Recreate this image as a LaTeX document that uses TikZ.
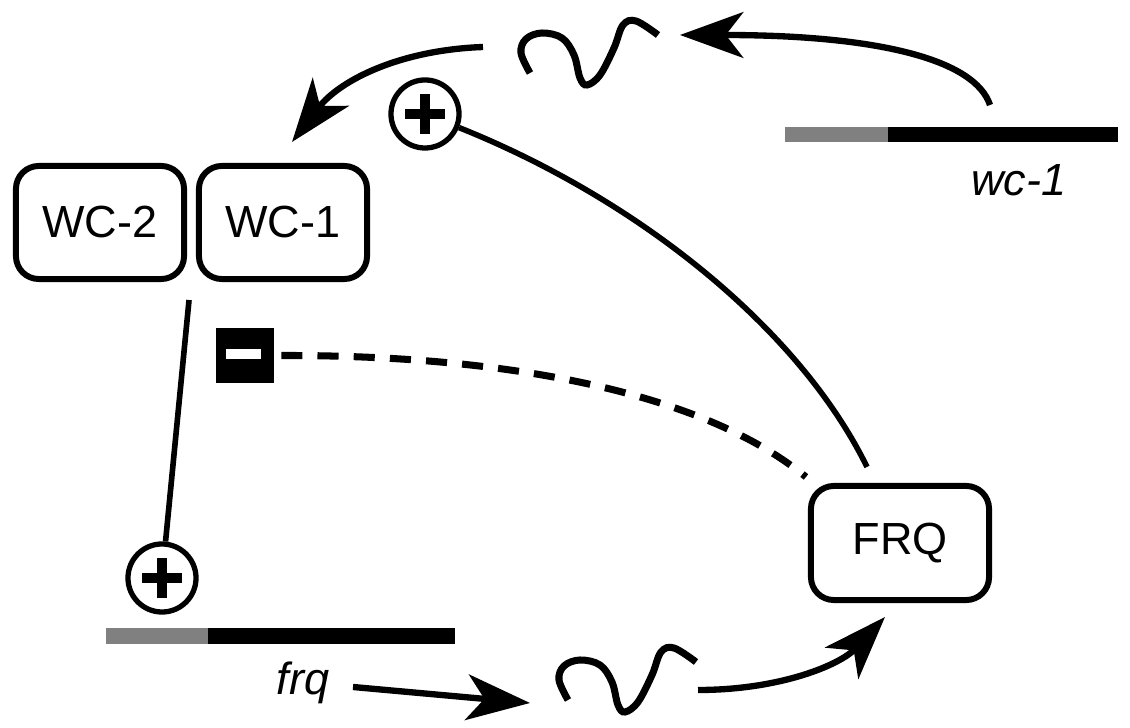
\documentclass[tikz,border=0pt]{standalone}
\usepackage{fontspec}
\setmainfont{Liberation Sans}
\usetikzlibrary{arrows.meta}
\def\mrna(#1){\draw[mrnaline, shift={(#1)}] plot[smooth, tension=0.6] coordinates {(0,0) (-9,-20) (-4,-34) (12,-40) (32,-35) (44,-18) (50,5) (57,12) (70,2) (84,-25) (93,-48) (106,-52) (128,-38)};}
\def\plusmark(#1){\draw[line width=2.8pt] ([xshift=-5.6pt]#1.center) -- ([xshift=5.6pt]#1.center);
  \draw[line width=2.8pt] ([yshift=-5.6pt]#1.center) -- ([yshift=5.6pt]#1.center);}

\begin{document}
\begin{tikzpicture}[x=0.01cm, y=-0.01cm,
    font=\fontsize{12.8}{15}\selectfont,
    protein/.style={draw, line width=1.7pt, rounded corners=6.5pt, minimum width=1.68cm, minimum height=1.13cm, inner sep=0pt},
    sign/.style={circle, draw, line width=1.5pt, minimum size=0.68cm, inner sep=0pt},
    link/.style={line width=1.6pt},
    flow/.style={line width=1.8pt, -{Stealth[length=18pt, width=13pt, inset=5pt]}},
    mrnaline/.style={line width=2pt}]
    %%%%% START %%%%%
    \useasboundingbox (0,0) rectangle (1130,728);

    % proteins
    \node[protein] (wc2) at (100,222.5) {WC-2};
    \node[protein] (wc1) at (283,222.5) {WC-1};
    \node[protein, minimum width=1.78cm, minimum height=1.14cm] (frq) at (900,543) {FRQ};

    % signs
    \node[sign] (plusA) at (425,114) {};
    \plusmark(plusA)
    \node[sign] (plusB) at (162,578) {};
    \plusmark(plusB)
    \node[fill=black, minimum width=0.57cm, minimum height=0.55cm, inner sep=0pt] (minus) at (245,355.5) {};
    \fill[white] ([shift={(-19,-6.5)}]minus.center) rectangle ([shift={(16,3.5)}]minus.center);

    % genes
    \fill[black!50] (785,127) rectangle (888,142);
    \fill[black] (888,127) rectangle (1118,142);
    \node[font=\fontsize{12.8}{15}\selectfont\itshape] (wclabel) at (1019,180) {wc-1};
    \fill[black!50] (106,628) rectangle (208,644);
    \fill[black] (208,628) rectangle (455,644);
    \node[font=\fontsize{12.8}{15}\selectfont\itshape] (frqlabel) at (303,683) {frq};

    % transcripts
    \mrna(530,73)
    \mrna(568,700)

    \coordinate (wcgene) at (990,105);
    \coordinate (wcmrna) at (680,35);
    \coordinate (wcout) at (483,47);
    \coordinate (wcin) at (292,142);
    \coordinate (frqtail) at (353,687);
    \coordinate (frqmrna) at (530,703);
    \coordinate (frqout) at (698,690);
    \coordinate (frqin) at (885,617);

    % arrows
    \draw[flow] (wcgene) .. controls (975,60) and (880,35) .. (wcmrna);
    \draw[flow] (wcout) .. controls (400,50) and (340,80) .. (wcin);
    \draw[flow] (frqtail) -- (frqmrna);
    \draw[flow] (frqout) .. controls (780,690) and (840,665) .. (frqin);

    % regulation
    \draw[link] ([shift={(2,18)}]wc2.south east) -- (plusB);
    \draw[link] (plusA) .. controls (640,200) and (800,330) .. ([shift={(-33,-16)}]frq.north);
    \draw[link, line width=2pt, dash pattern=on 6pt off 4.3pt] ([xshift=2pt]minus.east) .. controls (500,355) and (700,390) .. ([shift={(-2,-6)}]frq.north west);
    %%%%% END %%%%%
\end{tikzpicture}
\end{document}
